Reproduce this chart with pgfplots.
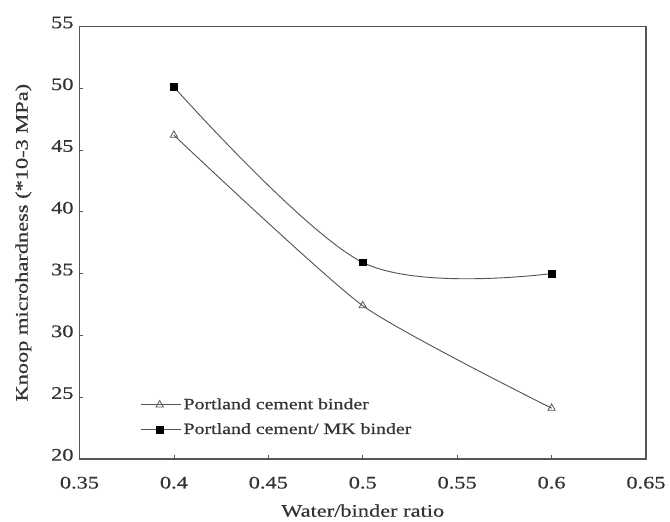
\documentclass[border=0pt]{standalone}
\usepackage{fontspec}
\setmainfont{Liberation Serif}[FakeStretch=1.27, FakeBold=0.6]
\usepackage{pgfplots}
\pgfplotsset{compat=1.18}
\definecolor{txt}{HTML}{333333}
\definecolor{ln}{HTML}{555555}
\begin{document}
\begin{tikzpicture}
\begin{axis}[
  scale only axis,
  width=427.5pt, height=326.25pt,
  xmin=0.35, xmax=0.65, ymin=20, ymax=55,
  xtick={0.35,0.4,0.45,0.5,0.55,0.6,0.65}, ytick={20,25,...,55},
  xticklabels={0.35,0.4,0.45,0.5,0.55,0.6,0.65},
  tick pos=left, tick align=inside,
  major tick length=3pt,
  axis line style={ln, line width=1.1pt},
  tick style={ln, line width=0.6pt},
  /pgf/number format/assume math mode=true,
  ticklabel style={font=\fontsize{13.3}{15}\selectfont, text=txt},
  xticklabel style={yshift=-10pt},
  yticklabel style={yshift=3pt, xshift=-1pt},
  label style={font=\fontsize{13.3}{15}\selectfont, text=txt},
  xlabel={Water/binder ratio},
  ylabel={Knoop microhardness (*10-3 MPa)},
  xlabel style={yshift=-5pt},
  ylabel style={yshift=8pt},
  legend style={draw=none, fill=none, at={(0.1,0.04)}, anchor=south west,
    font=\fontsize{11.8}{14}\selectfont, text=txt, row sep=5pt},
  legend cell align=left,
  legend image code/.code={\draw[mark repeat=2,mark phase=2] plot coordinates {(0cm,0cm) (0.5cm,0cm) (1.05cm,0cm)};},
]
\addplot[ln, line width=0.7pt, smooth, tension=0.35, mark=triangle, mark size=3.2pt, mark options={solid, fill=white, draw=ln, line width=0.6pt}]
  coordinates {(0.4,46.2) (0.5,32.4) (0.6,24.1)};
\addlegendentry{Portland cement binder}
\addplot[ln, line width=0.7pt, smooth, tension=0.55, mark=square*, mark size=2.6pt, mark options={solid, fill=black, draw=black}]
  coordinates {(0.4,50.1) (0.5,35.9) (0.6,35.0)};
\addlegendentry{Portland cement/ MK binder}
\end{axis}
\path ([shift={(-60pt,-43pt)}]current axis.south west) rectangle ([shift={(15pt,20pt)}]current axis.north east);
\end{tikzpicture}
\end{document}
